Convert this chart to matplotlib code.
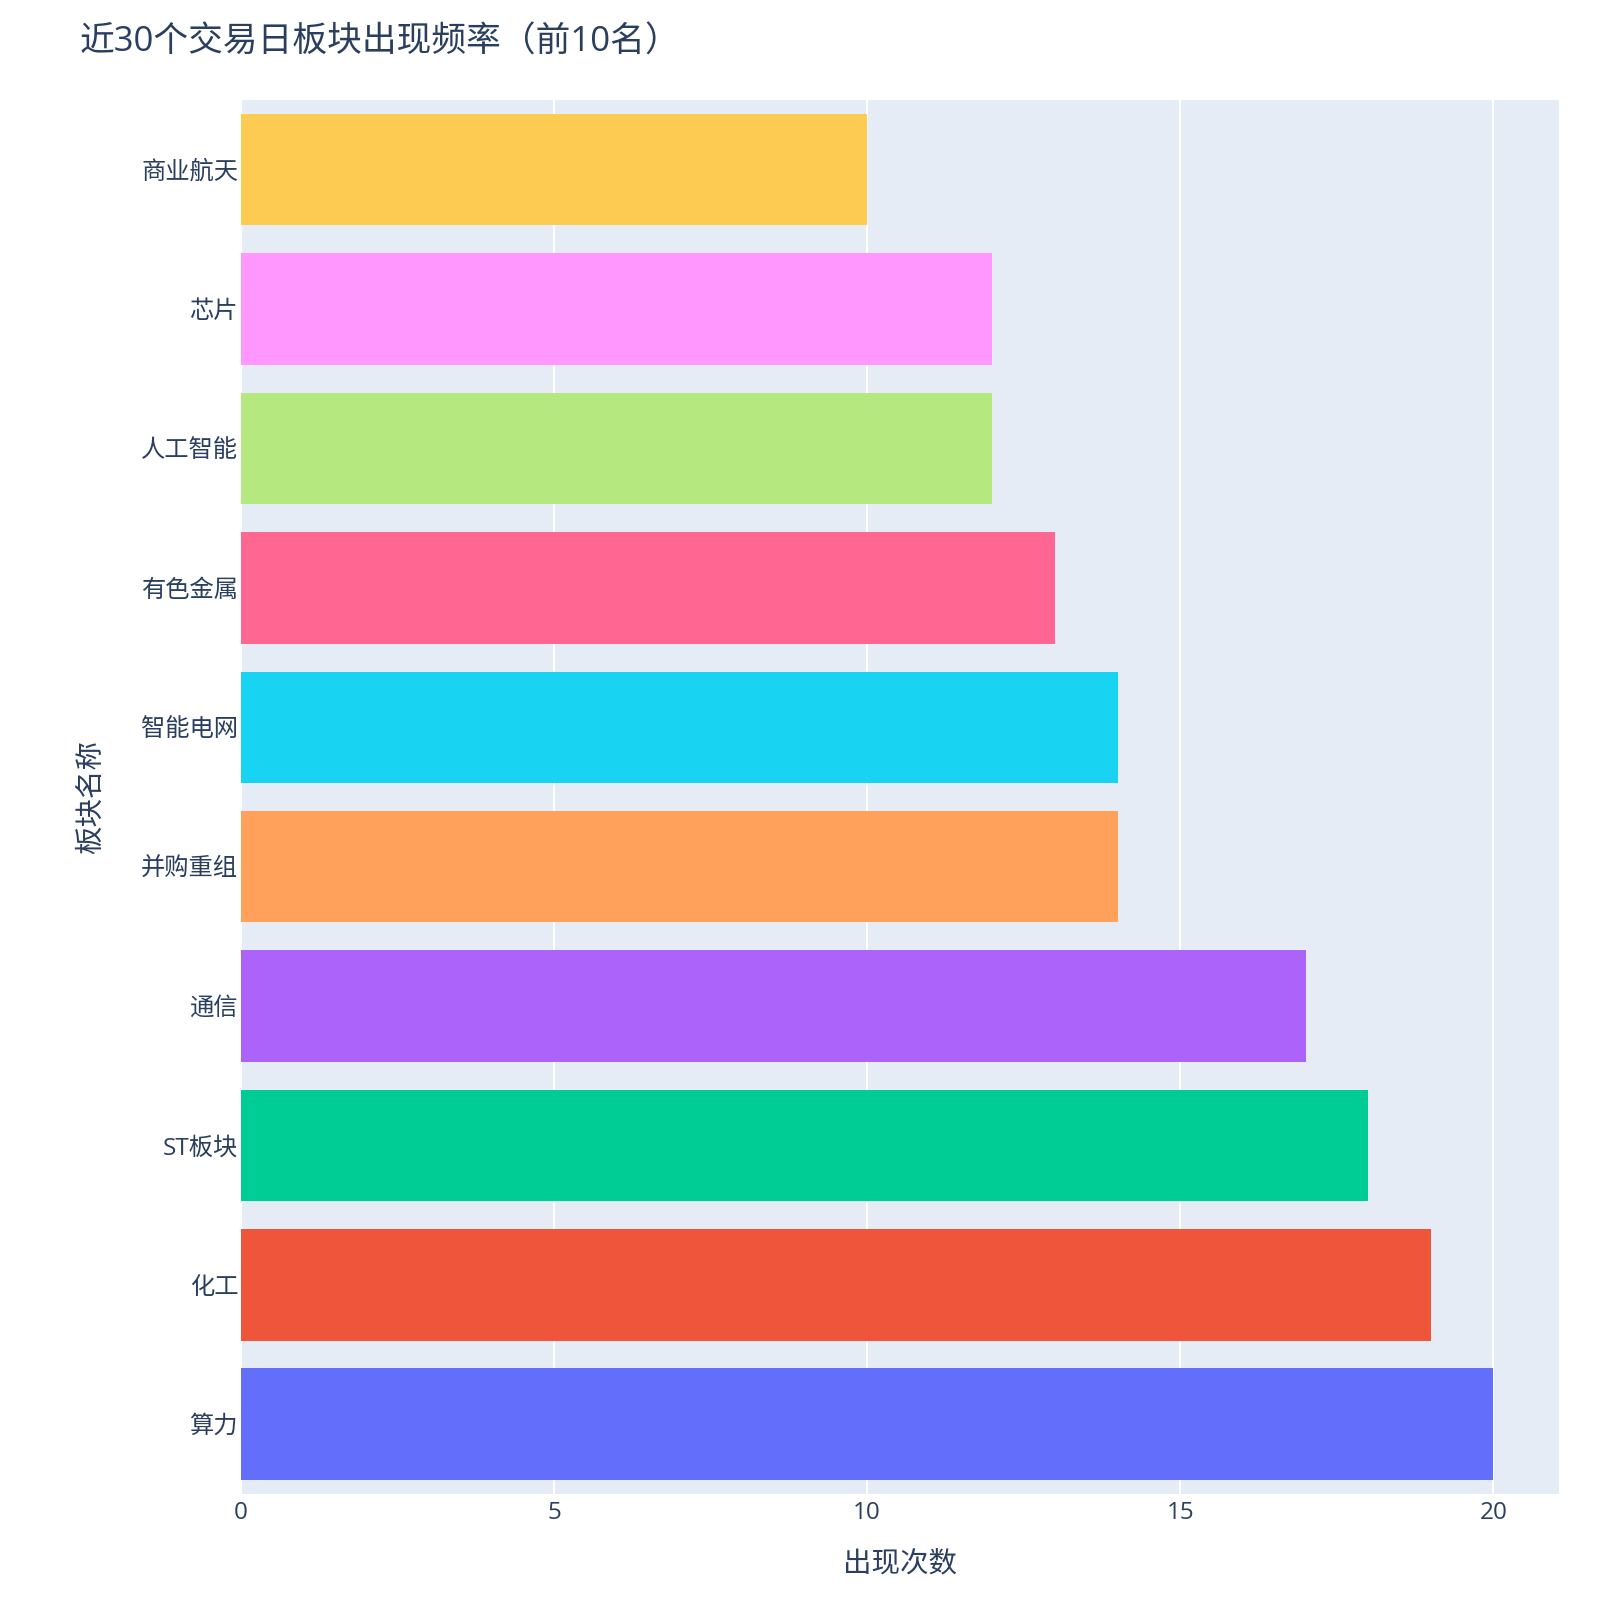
import matplotlib.pyplot as plt

plt.rcParams['font.family'] = ['Open Sans', 'Noto Sans CJK SC', 'DejaVu Sans']

sectors = ['算力', '化工', 'ST板块', '通信', '并购重组', '智能电网',
           '有色金属', '人工智能', '芯片', '商业航天']
counts = [20, 19, 18, 17, 14, 14, 13, 12, 12, 10]
colors = ['#636EFA', '#EF553B', '#00CC96', '#AB63FA', '#FFA15A',
          '#19D3F3', '#FF6692', '#B6E880', '#FF97FF', '#FECB52']

text_color = '#2a3f5f'

fig = plt.figure(figsize=(16, 16), dpi=100)
ax = fig.add_axes([0.1505, 0.0663, 0.824, 0.8712])
ax.set_facecolor('#E5ECF6')

ax.barh(range(len(sectors)), counts, height=0.8, color=colors, zorder=3)

ax.set_xlim(0, 21.05)
ax.set_ylim(-0.5, len(sectors) - 0.5)
ax.set_xticks([0, 5, 10, 15, 20])
ax.set_yticks(range(len(sectors)))
ax.set_yticklabels(sectors)
ax.grid(axis='x', color='white', linewidth=1.5, zorder=1)
ax.set_axisbelow(True)
for s in ax.spines.values():
    s.set_visible(False)
ax.tick_params(axis='both', length=0, labelsize=17.5, labelcolor=text_color)
ax.tick_params(axis='x', pad=5)
ax.tick_params(axis='y', pad=2)

fig.text(0.5625, 0.0223, '出现次数', fontsize=20.5, color=text_color,
         ha='center', va='center')
fig.text(0.0574, 0.502, '板块名称', fontsize=20.5, color=text_color,
         ha='center', va='center', rotation=90)

fig.text(0.0497, 0.9735, '近30个交易日板块出现频率（前10名）', fontsize=25,
         color=text_color, ha='left', va='center')

fig.savefig('out.png', dpi=100, facecolor='white')
